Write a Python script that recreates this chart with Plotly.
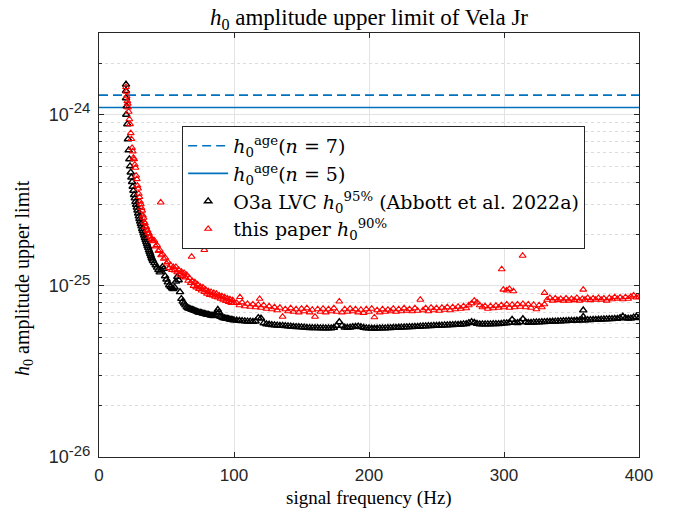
import plotly.graph_objects as go

# ---------------- data (amplitudes in units of 1e-26) ----------------
SCALE = 1e-26

H_AGE_N7 = 130.0   # dashed line
H_AGE_N5 = 110.0   # solid line

# frequency sampling grids (Hz)
F_LOW = [20 + 0.5 * i for i in range(41)]      # 20 .. 40
F_MID = list(range(41, 101))                   # 41 .. 100
F_HIGH = list(range(102, 402, 2))              # 102 .. 400

# O3a LVC h0^95% (Abbott et al. 2022a)
LVC_LOW = [150, 112, 88, 72, 62, 55, 50, 46, 43, 40.5,
           38, 36, 34, 32.5, 31, 29.8, 28.7, 27.6, 26.5, 25.5,
           24.6, 23.8, 23, 22.3, 21.5, 20.9, 20.3, 19.7, 19.1, 18.6,
           18.1, 17.6, 17.1, 16.7, 16.2, 15.8, 15.4, 15.0, 14.6, 14.3,
           14.0]
LVC_MID = [13.6, 13.2, 12.8, 12.4, 12.0, 12.3, 12.9, 12.6, 11.4, 10.9,
           10.5, 10.1, 9.9, 9.7, 9.6, 9.8, 10.6, 11.3, 10.8, 9.2,
           8.4, 8.1, 7.9, 7.7, 7.5, 7.4, 7.35, 7.3, 7.25, 7.2,
           7.15, 7.1, 7.05, 7.0, 6.97, 6.94, 6.9, 6.87, 6.84, 6.8,
           6.78, 6.75, 6.72, 6.7, 6.68, 6.75, 7.0, 7.25, 7.0, 6.6,
           6.55, 6.5, 6.48, 6.45, 6.42, 6.4, 6.37, 6.35, 6.33, 6.3]
LVC_HIGH = [6.28, 6.26, 6.24, 6.22, 6.2, 6.2, 6.18, 6.2, 6.5, 6.45,
            6.05, 5.98, 5.95, 5.92, 5.9, 5.88, 5.86, 5.85, 5.83, 5.82,
            5.8, 5.78, 5.76, 5.75, 5.74, 5.72, 5.7, 5.68, 5.68, 5.67,
            5.67, 5.66, 5.66, 5.65, 5.65, 5.66, 5.7, 5.85, 6.15, 5.85,
            5.72, 5.7, 5.72, 5.75, 5.78, 5.8, 5.75, 5.7, 5.66, 5.65,
            5.64, 5.64, 5.64, 5.65, 5.65, 5.66, 5.67, 5.68, 5.69, 5.7,
            5.71, 5.72, 5.73, 5.74, 5.75, 5.76, 5.77, 5.78, 5.8, 5.81,
            5.82, 5.83, 5.84, 5.85, 5.86, 5.87, 5.88, 5.89, 5.9, 5.91,
            5.92, 5.93, 5.94, 5.95, 5.97, 6.0, 6.08, 6.15, 6.1, 6.02,
            5.98, 5.97, 5.97, 5.98, 5.98, 5.99, 6.0, 6.0, 6.02, 6.05,
            6.05, 6.1, 6.35, 6.1, 6.08, 6.15, 6.4, 6.15, 6.1, 6.1,
            6.12, 6.13, 6.14, 6.15, 6.16, 6.17, 6.18, 6.19, 6.2, 6.21,
            6.22, 6.23, 6.24, 6.25, 6.26, 6.27, 6.28, 6.29, 6.3, 6.31,
            6.32, 6.33, 6.34, 6.35, 6.36, 6.37, 6.38, 6.39, 6.4, 6.41,
            6.42, 6.43, 6.5, 6.62, 6.48, 6.45, 6.46, 6.55, 6.6, 6.5]
LVC_EXTRA_F = [20.0, 20.0, 20.2, 358.7, 358.7]
LVC_EXTRA_V = [138, 125, 100, 7.2, 6.6]

# this paper h0^90%
OURS_LOW = [145, 128, 120, 110, 104, 94, 88, 78, 72, 64,
            61, 56, 55, 51, 49, 44, 42, 38.5, 37, 34.5,
            33, 31, 30, 28.5, 27.5, 25.8, 25, 23.6, 23.2, 22.1,
            22, 21.1, 21, 20.3, 20.2, 19.4, 19.4, 18.7, 18.8, 18.2,
            18.4]
OURS_MID = [18.4, 17.0, 17.3, 16.0, 16.2, 15.1, 15.3, 14.4, 14.6, 13.5,
            13.8, 12.7, 13.2, 12.4, 12.9, 12.3, 12.9, 12.0, 12.4, 11.6,
            12.1, 11.4, 11.9, 11.2, 11.6, 10.7, 11.1, 10.4, 10.7, 10.0,
            10.5, 9.8, 10.2, 9.6, 9.9, 9.4, 9.8, 9.2, 9.5, 9.0,
            9.3, 8.85, 9.2, 8.8, 9.1, 8.65, 9.0, 8.55, 8.8, 8.4,
            8.7, 8.3, 8.6, 8.15, 8.45, 8.05, 8.35, 7.95, 8.25, 7.95]
OURS_HIGH = [7.95, 7.7, 8.0, 7.6, 7.85, 7.55, 7.8, 7.5, 7.75, 7.45,
             7.7, 7.35, 7.6, 7.3, 7.5, 7.2, 7.45, 6.6, 7.3, 7.1,
             7.4, 7.05, 7.3, 7.0, 7.35, 7.1, 7.4, 7.0, 7.25, 6.6,
             7.3, 7.05, 7.35, 7.0, 7.3, 7.1, 7.4, 7.05, 8.1, 7.0,
             7.3, 7.05, 7.35, 7.1, 7.3, 7.0, 7.25, 6.95, 7.3, 7.05,
             7.35, 6.55, 7.2, 7.0, 7.3, 7.05, 7.25, 7.1, 7.35, 7.05,
             7.3, 7.1, 7.4, 7.15, 7.3, 7.1, 7.4, 7.15, 8.3, 7.2,
             7.4, 7.1, 7.45, 7.2, 7.4, 7.15, 7.45, 7.25, 7.5, 7.2,
             7.5, 7.3, 7.55, 7.35, 7.6, 7.4, 7.7, 7.9, 8.2, 8.0,
             7.7, 7.5, 7.6, 7.35, 7.6, 7.4, 7.65, 7.45, 7.7, 7.5,
             7.8, 7.45, 7.75, 7.5, 7.8, 7.55, 7.85, 7.5, 7.8, 7.45,
             7.75, 7.3, 7.7, 7.5, 7.8, 8.3, 8.5, 8.2, 8.45, 8.25,
             8.4, 8.2, 8.45, 8.2, 8.4, 8.25, 8.5, 8.2, 8.4, 8.3,
             8.5, 8.25, 8.45, 8.3, 8.5, 8.3, 8.45, 8.2, 8.5, 8.35,
             8.6, 8.4, 8.55, 8.35, 8.6, 8.4, 8.65, 8.8, 8.55, 8.6]
OURS_EXTRA_F = [20.2, 21.3, 45.7, 68.6, 78.0, 104.4, 119.0, 298.3, 299.5, 302.0,
                304.0, 307.0, 313.8, 330.0, 358.7]
OURS_EXTRA_V = [136, 116, 30.7, 14.8, 16.2, 8.6, 8.4, 12.5, 9.5, 9.4,
                9.6, 9.3, 15.0, 9.1, 9.5]

assert len(F_LOW) == len(LVC_LOW) == len(OURS_LOW)
assert len(F_MID) == len(LVC_MID) == len(OURS_MID)
assert len(F_HIGH) == len(LVC_HIGH) == len(OURS_HIGH)

Y_TICKS = [1e-26, 1e-25, 1e-24]
Y_TICK_EXP = ["-26", "-25", "-24"]
X_TICKS = [0, 100, 200, 300, 400]

# ---------------- figure ----------------
blue = "#0072BD"
serif = "Liberation Serif"
sans = "Liberation Sans"

lvc_f = F_LOW + F_MID + F_HIGH + LVC_EXTRA_F
lvc_v = [v * SCALE for v in LVC_LOW + LVC_MID + LVC_HIGH + LVC_EXTRA_V]
our_f = F_LOW + F_MID + F_HIGH + OURS_EXTRA_F
our_v = [v * SCALE for v in OURS_LOW + OURS_MID + OURS_HIGH + OURS_EXTRA_V]

fig = go.Figure()
fig.add_trace(go.Scatter(
    x=[0, 400], y=[H_AGE_N7 * SCALE] * 2, mode="lines",
    line=dict(color=blue, width=1.6, dash="9px,5px"),
    name="<i>h</i><sub>0</sub><sup>age</sup>(<i>n</i> = 7)"))
fig.add_trace(go.Scatter(
    x=[0, 400], y=[H_AGE_N5 * SCALE] * 2, mode="lines",
    line=dict(color=blue, width=1.6),
    name="<i>h</i><sub>0</sub><sup>age</sup>(<i>n</i> = 5)"))
fig.add_trace(go.Scatter(
    x=lvc_f, y=lvc_v, mode="markers",
    marker=dict(symbol="triangle-up-open", size=6.5, color="black",
                line=dict(width=1.4, color="black")),
    name="O3a LVC <i>h</i><sub>0</sub><sup>95%</sup> (Abbott et al. 2022a)"))
fig.add_trace(go.Scatter(
    x=our_f, y=our_v, mode="markers",
    marker=dict(symbol="triangle-up-open", size=6, color="red",
                line=dict(width=1.1, color="red")),
    name="this paper <i>h</i><sub>0</sub><sup>90%</sup>"))

minor_vals = [m * 10 ** e for e in (-26, -25, -24) for m in range(2, 10) if m * 10 ** e <= 3e-24]
y_tick_text = ["10<sup><span style='font-size:15px'>%s</span></sup>" % e for e in Y_TICK_EXP]

fig.update_layout(
    width=680, height=516,
    margin=dict(l=99, r=41, t=33, b=59),
    paper_bgcolor="white", plot_bgcolor="white",
    title=dict(text="<i>h</i><sub>0</sub> amplitude upper limit of Vela Jr",
               x=369 / 680, xanchor="center", y=1 - 17 / 516, yanchor="middle",
               font=dict(family=serif, size=23, color="black")),
    showlegend=True,
    legend=dict(x=0.154, y=0.781, xanchor="left", yanchor="top",
                bgcolor="white", bordercolor="#262626", borderwidth=1,
                font=dict(family="DejaVu Serif", size=19, color="black"),
                tracegroupgap=0, itemwidth=40),
    xaxis=dict(range=[0, 400], tickvals=X_TICKS, ticks="inside", ticklen=5,
               tickcolor="#262626", showline=True, linecolor="#262626", linewidth=1,
               mirror="ticks", showgrid=True, gridcolor="#e3e3e3", gridwidth=1,
               zeroline=False, ticklabelstandoff=3,
               tickfont=dict(family=sans, size=17, color="#262626")),
    yaxis=dict(type="log", range=[-26, -23.523], tickvals=Y_TICKS, ticktext=y_tick_text,
               ticks="inside", ticklen=5, tickcolor="#262626",
               showline=True, linecolor="#262626", linewidth=1, mirror="ticks",
               showgrid=True, gridcolor="#e3e3e3", gridwidth=1, zeroline=False,
               ticklabelstandoff=4,
               tickfont=dict(family=sans, size=18, color="#262626"),
               minor=dict(tickvals=minor_vals, ticks="inside", ticklen=3,
                          tickcolor="#262626", showgrid=True, gridcolor="#dcdcdc",
                          griddash="dot", gridwidth=1)),
    annotations=[
        dict(text="signal frequency (Hz)", xref="paper", yref="paper",
             x=0.5, y=(457 - 498) / 424, xanchor="center", yanchor="middle",
             showarrow=False, font=dict(family=serif, size=19, color="black")),
        dict(text="<i>h</i><sub>0</sub> amplitude upper limit", xref="paper", yref="paper",
             x=(23 - 99) / 540, y=(457 - 278) / 424, xanchor="center", yanchor="middle",
             textangle=-90, showarrow=False,
             font=dict(family=serif, size=20, color="black")),
    ],
)

fig.write_html("out.html")
